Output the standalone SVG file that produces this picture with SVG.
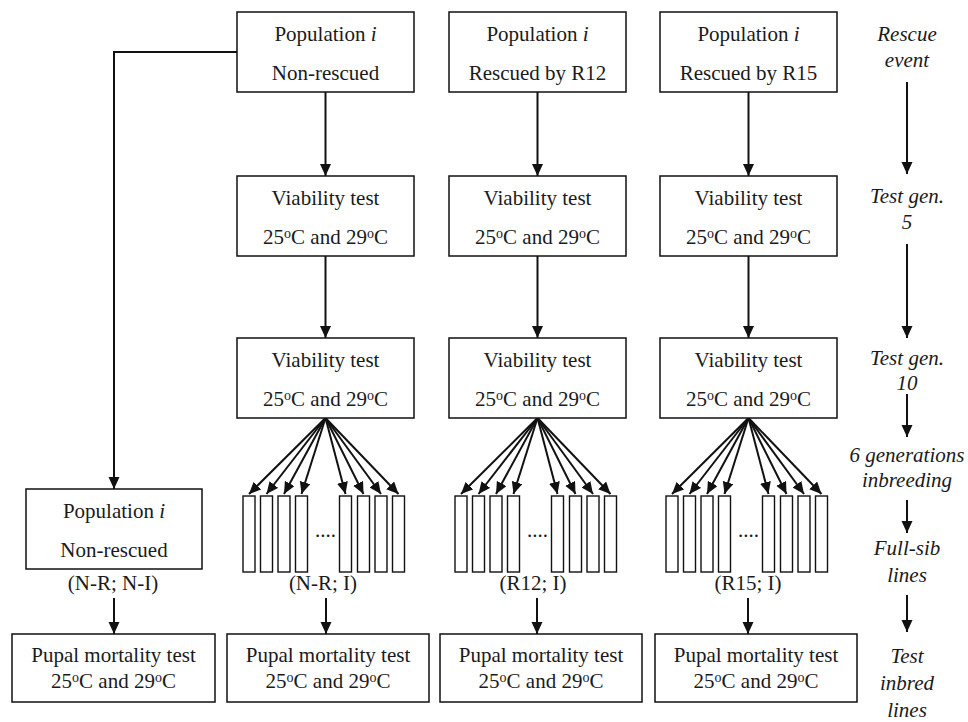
<svg xmlns="http://www.w3.org/2000/svg" width="968" height="722" viewBox="0 0 968 722">
<defs>
<marker id="ah" markerUnits="userSpaceOnUse" markerWidth="13" markerHeight="12" refX="12" refY="5.5" orient="auto">
<path d="M0,0 L12,5.5 L0,11 z" fill="#111"/>
</marker>
<style>
.box{fill:#fff;stroke:#111;stroke-width:1.5}
.sib{fill:#fff;stroke:#111;stroke-width:1.4}
.t{font-family:"Liberation Serif","Times New Roman",serif;font-size:21px;fill:#1a1a1a;text-anchor:middle}
.it{font-style:italic}
.c{stroke:#111;stroke-width:2;fill:none}
.a{stroke:#111;stroke-width:2;fill:none;marker-end:url(#ah)}
.sup{font-size:14px}
</style>
</defs>
<rect width="968" height="722" fill="#fff"/>

<g id="connectors">
<path class="a" d="M237,52 H114 V489"/>
<line class="a" x1="325.5" y1="92" x2="325.5" y2="176"/>
<line class="a" x1="537.5" y1="92" x2="537.5" y2="176"/>
<line class="a" x1="748.5" y1="92" x2="748.5" y2="176"/>
<line class="a" x1="325.5" y1="256" x2="325.5" y2="338"/>
<line class="a" x1="537.5" y1="256" x2="537.5" y2="338"/>
<line class="a" x1="748.5" y1="256" x2="748.5" y2="338"/>
<line class="a" x1="325.5" y1="418" x2="249" y2="494"/>
<line class="a" x1="325.5" y1="418" x2="266.5" y2="494"/>
<line class="a" x1="325.5" y1="418" x2="284" y2="494"/>
<line class="a" x1="325.5" y1="418" x2="301.5" y2="494"/>
<line class="a" x1="325.5" y1="418" x2="345.5" y2="494"/>
<line class="a" x1="325.5" y1="418" x2="363.5" y2="494"/>
<line class="a" x1="325.5" y1="418" x2="381" y2="494"/>
<line class="a" x1="325.5" y1="418" x2="398.5" y2="494"/>
<line class="a" x1="537.5" y1="418" x2="461" y2="494"/>
<line class="a" x1="537.5" y1="418" x2="478.5" y2="494"/>
<line class="a" x1="537.5" y1="418" x2="496" y2="494"/>
<line class="a" x1="537.5" y1="418" x2="513.5" y2="494"/>
<line class="a" x1="537.5" y1="418" x2="557.5" y2="494"/>
<line class="a" x1="537.5" y1="418" x2="575.5" y2="494"/>
<line class="a" x1="537.5" y1="418" x2="593" y2="494"/>
<line class="a" x1="537.5" y1="418" x2="610.5" y2="494"/>
<line class="a" x1="748.5" y1="418" x2="672" y2="494"/>
<line class="a" x1="748.5" y1="418" x2="689.5" y2="494"/>
<line class="a" x1="748.5" y1="418" x2="707" y2="494"/>
<line class="a" x1="748.5" y1="418" x2="724.5" y2="494"/>
<line class="a" x1="748.5" y1="418" x2="768.5" y2="494"/>
<line class="a" x1="748.5" y1="418" x2="786.5" y2="494"/>
<line class="a" x1="748.5" y1="418" x2="804" y2="494"/>
<line class="a" x1="748.5" y1="418" x2="821.5" y2="494"/>
<line class="a" x1="114" y1="598" x2="114" y2="634"/>
<line class="a" x1="326" y1="598" x2="326" y2="634"/>
<line class="a" x1="537" y1="598" x2="537" y2="634"/>
<line class="a" x1="748" y1="598" x2="748" y2="634"/>
<line class="a" x1="907" y1="82" x2="907" y2="174"/>
<line class="a" x1="907" y1="244" x2="907" y2="338"/>
<line class="a" x1="907" y1="394" x2="907" y2="437"/>
<line class="a" x1="907" y1="500" x2="907" y2="533"/>
<line class="a" x1="907" y1="595" x2="907" y2="632"/>
</g>

<g id="pop-nr">
<rect class="box" x="237" y="12" width="177" height="80"/>
<text class="t" x="325.5" y="41">Population <tspan class="it">i</tspan></text>
<text class="t" x="325.5" y="80">Non-rescued</text>
</g>
<g id="pop-r12">
<rect class="box" x="449" y="12" width="177" height="80"/>
<text class="t" x="537.5" y="41">Population <tspan class="it">i</tspan></text>
<text class="t" x="537.5" y="80">Rescued by R12</text>
</g>
<g id="pop-r15">
<rect class="box" x="660" y="12" width="177" height="80"/>
<text class="t" x="748.5" y="41">Population <tspan class="it">i</tspan></text>
<text class="t" x="748.5" y="80">Rescued by R15</text>
</g>

<g id="via5-nr">
<rect class="box" x="237" y="176" width="177" height="80"/>
<text class="t" x="325.5" y="205">Viability test</text>
<text class="t" x="325.5" y="244">25<tspan class="sup" dy="-6">o</tspan><tspan dy="6">C and 29</tspan><tspan class="sup" dy="-6">o</tspan><tspan dy="6">C</tspan></text>
</g>
<g id="via5-r12">
<rect class="box" x="449" y="176" width="177" height="80"/>
<text class="t" x="537.5" y="205">Viability test</text>
<text class="t" x="537.5" y="244">25<tspan class="sup" dy="-6">o</tspan><tspan dy="6">C and 29</tspan><tspan class="sup" dy="-6">o</tspan><tspan dy="6">C</tspan></text>
</g>
<g id="via5-r15">
<rect class="box" x="660" y="176" width="177" height="80"/>
<text class="t" x="748.5" y="205">Viability test</text>
<text class="t" x="748.5" y="244">25<tspan class="sup" dy="-6">o</tspan><tspan dy="6">C and 29</tspan><tspan class="sup" dy="-6">o</tspan><tspan dy="6">C</tspan></text>
</g>

<g id="via10-nr">
<rect class="box" x="237" y="338" width="177" height="80"/>
<text class="t" x="325.5" y="367">Viability test</text>
<text class="t" x="325.5" y="406">25<tspan class="sup" dy="-6">o</tspan><tspan dy="6">C and 29</tspan><tspan class="sup" dy="-6">o</tspan><tspan dy="6">C</tspan></text>
</g>
<g id="via10-r12">
<rect class="box" x="449" y="338" width="177" height="80"/>
<text class="t" x="537.5" y="367">Viability test</text>
<text class="t" x="537.5" y="406">25<tspan class="sup" dy="-6">o</tspan><tspan dy="6">C and 29</tspan><tspan class="sup" dy="-6">o</tspan><tspan dy="6">C</tspan></text>
</g>
<g id="via10-r15">
<rect class="box" x="660" y="338" width="177" height="80"/>
<text class="t" x="748.5" y="367">Viability test</text>
<text class="t" x="748.5" y="406">25<tspan class="sup" dy="-6">o</tspan><tspan dy="6">C and 29</tspan><tspan class="sup" dy="-6">o</tspan><tspan dy="6">C</tspan></text>
</g>

<g id="pop-nr-ni">
<rect class="box" x="26" y="489" width="176" height="80"/>
<text class="t" x="114" y="518">Population <tspan class="it">i</tspan></text>
<text class="t" x="114" y="557">Non-rescued</text>
<text class="t" x="113" y="590">(N-R; N-I)</text>
</g>

<g id="lines-nr">
<rect class="sib" x="243" y="496" width="12" height="76"/>
<rect class="sib" x="260.5" y="496" width="12" height="76"/>
<rect class="sib" x="278" y="496" width="12" height="76"/>
<rect class="sib" x="295.5" y="496" width="12" height="76"/>
<rect class="sib" x="339.5" y="496" width="12" height="76"/>
<rect class="sib" x="357.5" y="496" width="12" height="76"/>
<rect class="sib" x="375" y="496" width="12" height="76"/>
<rect class="sib" x="392.5" y="496" width="12" height="76"/>
<text class="t" x="325.5" y="537">....</text>
<text class="t" x="323" y="590">(N-R; I)</text>
</g>
<g id="lines-r12">
<rect class="sib" x="455" y="496" width="12" height="76"/>
<rect class="sib" x="472.5" y="496" width="12" height="76"/>
<rect class="sib" x="490" y="496" width="12" height="76"/>
<rect class="sib" x="507.5" y="496" width="12" height="76"/>
<rect class="sib" x="551.5" y="496" width="12" height="76"/>
<rect class="sib" x="569.5" y="496" width="12" height="76"/>
<rect class="sib" x="587" y="496" width="12" height="76"/>
<rect class="sib" x="604.5" y="496" width="12" height="76"/>
<text class="t" x="537.5" y="537">....</text>
<text class="t" x="533" y="590">(R12; I)</text>
</g>
<g id="lines-r15">
<rect class="sib" x="666" y="496" width="12" height="76"/>
<rect class="sib" x="683.5" y="496" width="12" height="76"/>
<rect class="sib" x="701" y="496" width="12" height="76"/>
<rect class="sib" x="718.5" y="496" width="12" height="76"/>
<rect class="sib" x="762.5" y="496" width="12" height="76"/>
<rect class="sib" x="780.5" y="496" width="12" height="76"/>
<rect class="sib" x="798" y="496" width="12" height="76"/>
<rect class="sib" x="815.5" y="496" width="12" height="76"/>
<text class="t" x="748.5" y="537">....</text>
<text class="t" x="748" y="590">(R15; I)</text>
</g>

<g id="pupal-nr-ni">
<rect class="box" x="12" y="634" width="203" height="68"/>
<text class="t" x="113.5" y="662">Pupal mortality test</text>
<text class="t" x="113.5" y="688">25<tspan class="sup" dy="-6">o</tspan><tspan dy="6">C and 29</tspan><tspan class="sup" dy="-6">o</tspan><tspan dy="6">C</tspan></text>
</g>
<g id="pupal-nr-i">
<rect class="box" x="227" y="634" width="202" height="68"/>
<text class="t" x="328" y="662">Pupal mortality test</text>
<text class="t" x="328" y="688">25<tspan class="sup" dy="-6">o</tspan><tspan dy="6">C and 29</tspan><tspan class="sup" dy="-6">o</tspan><tspan dy="6">C</tspan></text>
</g>
<g id="pupal-r12">
<rect class="box" x="440" y="634" width="202" height="68"/>
<text class="t" x="541" y="662">Pupal mortality test</text>
<text class="t" x="541" y="688">25<tspan class="sup" dy="-6">o</tspan><tspan dy="6">C and 29</tspan><tspan class="sup" dy="-6">o</tspan><tspan dy="6">C</tspan></text>
</g>
<g id="pupal-r15">
<rect class="box" x="655" y="634" width="202" height="68"/>
<text class="t" x="756" y="662">Pupal mortality test</text>
<text class="t" x="756" y="688">25<tspan class="sup" dy="-6">o</tspan><tspan dy="6">C and 29</tspan><tspan class="sup" dy="-6">o</tspan><tspan dy="6">C</tspan></text>
</g>

<g id="timeline-labels">
<text class="t it" x="907" y="41">Rescue</text>
<text class="t it" x="907" y="67">event</text>
<text class="t it" x="907" y="203">Test gen.</text>
<text class="t it" x="907" y="229">5</text>
<text class="t it" x="907" y="365">Test gen.</text>
<text class="t it" x="907" y="390">10</text>
<text class="t it" x="907" y="462">6 generations</text>
<text class="t it" x="907" y="487">inbreeding</text>
<text class="t it" x="907" y="555">Full-sib</text>
<text class="t it" x="907" y="582">lines</text>
<text class="t it" x="907" y="663">Test</text>
<text class="t it" x="907" y="690">inbred</text>
<text class="t it" x="907" y="717">lines</text>
</g>
</svg>
